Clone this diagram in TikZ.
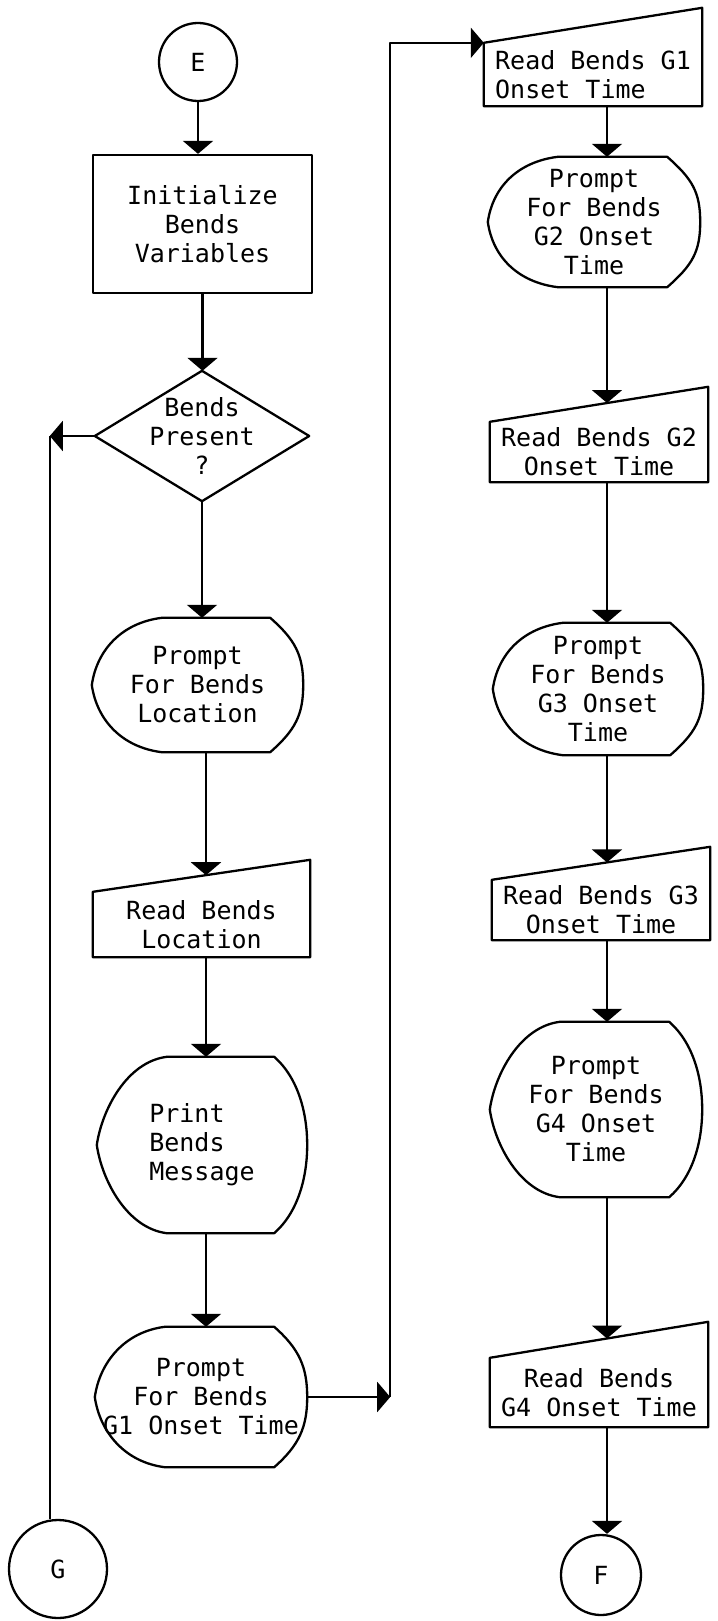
\documentclass[tikz,border=0pt]{standalone}
\usepackage{fontspec}
\newfontfamily\flowfont{DejaVu Sans Mono}
\usetikzlibrary{arrows.meta,calc}
\newcommand\flowtext{\flowfont\fontsize{25}{29}\selectfont}
% display symbol: flat top and bottom, pointed bulge on the left, bevelled right
\newcommand\dispshape[1]{%
  \draw[shapeline] ($(#1.north west)+(70,0)$) -- ($(#1.north east)+(-33,0)$)
    .. controls ($(#1.north east)+(-8,22)$) and ($(#1.east)+(0,-30)$) .. (#1.east)
    .. controls ($(#1.east)+(0,30)$) and ($(#1.south east)+(-8,-22)$) .. ($(#1.south east)+(-33,0)$)
    -- ($(#1.south west)+(70,0)$)
    .. controls ($(#1.south west)+(30,-5)$) and ($(#1.west)+(5,35)$) .. (#1.west)
    .. controls ($(#1.west)+(5,-35)$) and ($(#1.north west)+(30,5)$) .. ($(#1.north west)+(70,0)$)
    -- cycle;}
% manual input symbol: rectangle with a top edge rising to the right
\newcommand\manshape[2]{%
  \draw[shapeline] (#1.south west) -- (#1.north west) -- ($(#1.north east)+(0,-#2)$)
    -- (#1.south east) -- cycle;}
\tikzset{
  shapeline/.style={line width=2.3pt, line join=round},
  arr/.style={shapeline, -{Triangle[width=30pt,length=13pt]}},
  blk/.style={inner sep=0pt, align=center, font=\flowtext},
  conn/.style={blk, circle, draw, shapeline},
}
\begin{document}
\begin{tikzpicture}[x=1pt,y=-1pt]
\fill[white] (0,0) rectangle (717,1621);
\useasboundingbox (0,0) rectangle (717,1621);

% ---- left column ----
\node[conn, minimum size=78pt] (E) at (198,62) {E};
\node[blk, draw, shapeline, minimum width=219pt, minimum height=138pt] (init) at (202.5,224) {Initialize\\Bends\\Variables};
\node[blk, minimum width=214pt, minimum height=130pt] (dia) at (202,436) {Bends\\Present\\?};
\draw[shapeline] (dia.north) -- (dia.east) -- (dia.south) -- (dia.west) -- cycle;
\node[blk, minimum width=211pt, minimum height=134pt] (pl) at (197.5,685) {Prompt\\For Bends\\Location};
\dispshape{pl}
\node[blk, minimum width=217pt, minimum height=65pt] (rl) at (201.5,924.5) {Read Bends\\Location};
\manshape{rl}{32}
\node[blk, align=left, minimum width=210pt, minimum height=176pt] (pm) at (202,1145) {Print\\Bends\\Message};
\dispshape{pm}
\node[blk, minimum width=212pt, minimum height=140pt] (pg1) at (201,1397) {Prompt\\For Bends\\G1 Onset Time};
\dispshape{pg1}
\node[conn, minimum size=98pt] (G) at (58,1569) {G};

% ---- right column ----
\node[blk, align=left, minimum width=218pt, minimum height=63pt] (rg1) at (593,74.5) {Read Bends G1\\Onset Time};
\manshape{rg1}{35}
\node[blk, minimum width=212pt, minimum height=130pt] (pg2) at (594,222) {Prompt\\For Bends\\G2 Onset\\Time};
\dispshape{pg2}
\node[blk, minimum width=218pt, minimum height=60pt] (rg2) at (599,452) {Read Bends G2\\Onset Time};
\manshape{rg2}{35}
\node[blk, minimum width=210pt, minimum height=132pt] (pg3) at (598,689) {Prompt\\For Bends\\G3 Onset\\Time};
\dispshape{pg3}
\node[blk, minimum width=218pt, minimum height=60pt] (rg3) at (601,910) {Read Bends G3\\Onset Time};
\manshape{rg3}{33}
\node[blk, minimum width=212pt, minimum height=175pt] (pg4) at (596,1109.5) {Prompt\\For Bends\\G4 Onset\\Time};
\dispshape{pg4}
\node[blk, minimum width=218pt, minimum height=69pt] (rg4) at (599,1392.5) {Read Bends\\G4 Onset Time};
\manshape{rg4}{36}
\node[conn, minimum size=80pt] (F) at (601,1575) {F};

% ---- routing lanes and entry points ----
\coordinate (lcol) at (206,0);
\coordinate (rcol) at (607,0);
\coordinate (rlin) at ($(rl.north -| lcol)+(0,-16.6)$);
\coordinate (rg2in) at ($(rg2.north -| rcol)+(0,-18.8)$);
\coordinate (rg3in) at ($(rg3.north -| rcol)+(0,-17.4)$);
\coordinate (rg4in) at ($(rg4.north -| rcol)+(0,-19.3)$);
\coordinate (gc) at ($(dia.west)+(-45,0)$);
\coordinate (c2) at ($(pg1.east)+(83,0)$);
\coordinate (c3) at (c2 |- rg1.north west);

% ---- connectors ----
\draw[arr] (E.south) -- (E.south |- init.north);
\draw[arr] (init.south) -- (init.south |- dia.north);
\draw[arr] (dia.south) -- (dia.south |- pl.north);
\draw[arr] (pl.south -| lcol) -- (rlin);
\draw[arr] (rl.south -| lcol) -- (pm.north -| lcol);
\draw[arr] (pm.south -| lcol) -- (pg1.north -| lcol);
\draw[arr] (dia.west) -- (gc);
\draw[shapeline] (gc) -- (gc |- G.north);
\draw[arr] (pg1.east) -- (c2);
\draw[arr] (c2) -- (c3) -- (rg1.north west);
\draw[arr] (rg1.south -| rcol) -- (pg2.north -| rcol);
\draw[arr] (pg2.south -| rcol) -- (rg2in);
\draw[arr] (rg2.south -| rcol) -- (pg3.north -| rcol);
\draw[arr] (pg3.south -| rcol) -- (rg3in);
\draw[arr] (rg3.south -| rcol) -- (pg4.north -| rcol);
\draw[arr] (pg4.south -| rcol) -- (rg4in);
\draw[arr] (rg4.south -| rcol) -- (F.north -| rcol);
\end{tikzpicture}
\end{document}
